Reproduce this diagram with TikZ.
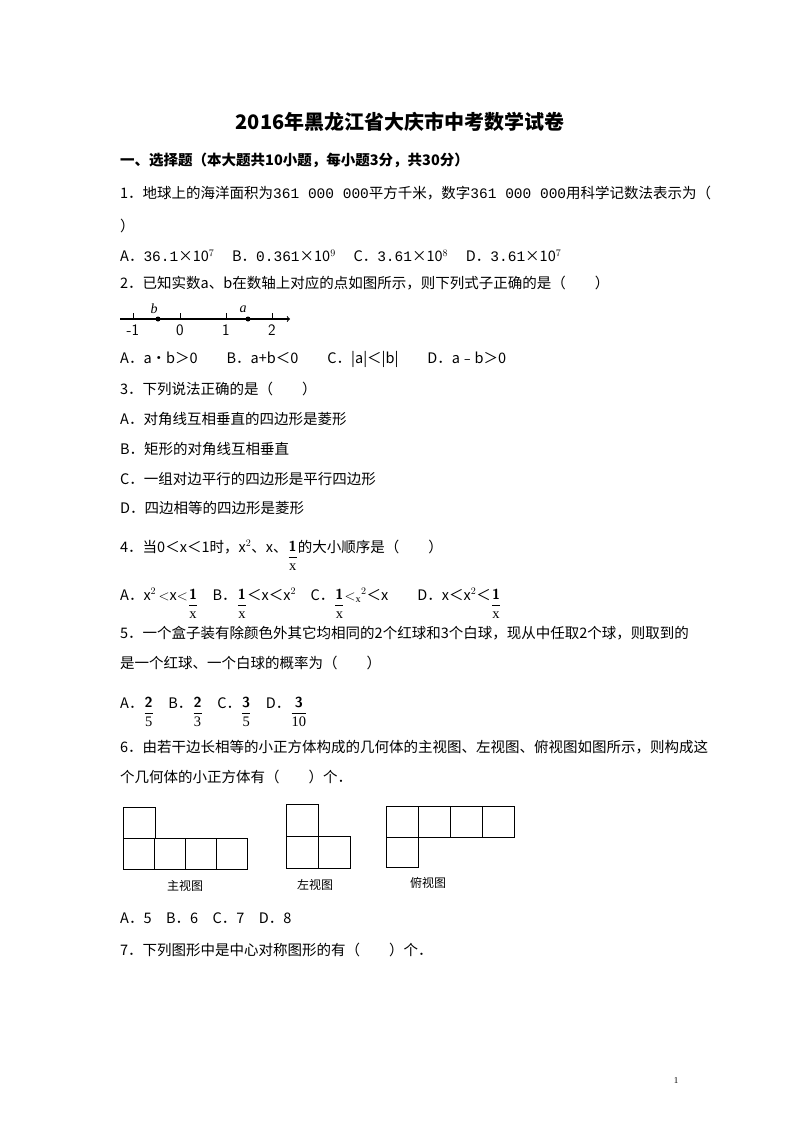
\documentclass[tikz,border=0pt]{standalone}
\usepackage{fontspec}
\newfontfamily\cjk{Noto Sans CJK SC}
\newfontfamily\mn{Liberation Mono}
\setmainfont{Liberation Serif}
\newcommand{\myfr}[2]{\raisebox{-0.62em}{$\displaystyle\frac{\textsf{\textbf{#1}}}{\mathrm{#2}}$}}
\begin{document}
\begin{tikzpicture}[x=1pt,y=-1pt,
  t/.style={anchor=west,inner sep=0pt,font=\cjk\fontsize{14.5}{16}\selectfont},
  sq/.style={draw,line width=0.9pt},
  fr/.style={inner sep=0pt,font=\fontsize{16}{17}\selectfont\sffamily}]
\useasboundingbox (0,0) rectangle (800,1132);
\node[inner sep=0pt,font=\cjk\bfseries\fontsize{20}{22}\selectfont] (title) at (400,122) {2016年黑龙江省大庆市中考数学试卷};
\node[t,font=\cjk\bfseries\fontsize{14.5}{16}\selectfont] (s1) at (120,160) {一、选择题（本大题共10小题，每小题3分，共30分）};
\node[t] (q1) at (120,193) {1．地球上的海洋面积为{\mn 361 000 000}平方千米，数字{\mn 361 000 000}用科学记数法表示为（};
\node[t] (q1b) at (120,226) {）};
\node[t] (q1o) at (120,256) {A．{\mn 36.1}×10$^7$\quad\ B．{\mn 0.361}×10$^9$\quad\ C．{\mn 3.61}×10$^8$\quad\ D．{\mn 3.61}×10$^7$};
\node[t] (q2) at (120,283) {2．已知实数a、b在数轴上对应的点如图所示，则下列式子正确的是（\qquad ）};
% number line
\draw[->,line width=1.1pt] (120,319) -- (290,319);
\foreach \x/\l in {133/-1,180/0,226/1,272/2}{\draw (\x,319) -- (\x,313); \node[fr] at (\x,330) {\l};}
\fill (158,319) circle (2.5); \node[fr,font=\itshape\fontsize{14}{15}\selectfont] at (154,309) {b};
\fill (248,319) circle (2.5); \node[fr,font=\itshape\fontsize{14}{15}\selectfont] at (243,309) {a};
\node[t] (q2o) at (120,359) {A．a•b＞0\qquad B．a+b＜0\qquad C．|a|＜|b|\qquad D．a﹣b＞0};
\node[t] (q3) at (120,389) {3．下列说法正确的是（\qquad ）};
\node[t] (q3a) at (120,419) {A．对角线互相垂直的四边形是菱形};
\node[t] (q3b) at (120,449) {B．矩形的对角线互相垂直};
\node[t] (q3c) at (120,479) {C．一组对边平行的四边形是平行四边形};
\node[t] (q3d) at (120,508) {D．四边相等的四边形是菱形};
\node[t,anchor=base west] (q4) at (120,552) {4．当0＜x＜1时，x$^2$、x、\myfr{1}{x}的大小顺序是（\qquad ）};
\node[t,anchor=base west] (q4o) at (120,600) {A．x$^2$\,$<$x$<$\myfr{1}{x}\quad B．\myfr{1}{x}＜x＜x$^2$\quad C．\myfr{1}{x}$<_{\mathrm x}$$^2$＜x\qquad D．x＜x$^2$＜\myfr{1}{x}};
\node[t] (q5) at (120,633) {5．一个盒子装有除颜色外其它均相同的2个红球和3个白球，现从中任取2个球，则取到的};
\node[t] (q5b) at (120,663) {是一个红球、一个白球的概率为（\qquad ）};
\node[t,anchor=base west] (q5o) at (120,708) {A．\myfr{2}{5}\quad B．\myfr{2}{3}\quad C．\myfr{3}{5}\quad D．\myfr{3}{10}};
\node[t] (q6) at (120,747) {6．由若干边长相等的小正方体构成的几何体的主视图、左视图、俯视图如图所示，则构成这};
\node[t] (q6b) at (120,777) {个几何体的小正方体有（\qquad ）个．};
% views
\draw[sq] (123,807) rectangle (155,838);
\foreach \i in {0,1,2,3}{\draw[sq] (123+31*\i,838) rectangle (154+31*\i,869);}
\node[inner sep=0pt,font=\cjk\fontsize{12}{14}\selectfont] at (185,886) {主视图};
\draw[sq] (286,804) rectangle (318,836);
\draw[sq] (286,836) rectangle (318,868);
\draw[sq] (318,836) rectangle (350,868);
\node[inner sep=0pt,font=\cjk\fontsize{12}{14}\selectfont] at (315,885) {左视图};
\foreach \i in {0,1,2,3}{\draw[sq] (386+32*\i,806) rectangle (418+32*\i,837);}
\draw[sq] (386,837) rectangle (418,867);
\node[inner sep=0pt,font=\cjk\fontsize{12}{14}\selectfont] at (428,883) {俯视图};
\node[t] (q6o) at (120,918) {A．5\quad B．6\quad C．7\quad D．8};
\node[t] (q7) at (120,950) {7．下列图形中是中心对称图形的有（\qquad ）个．};
\node[inner sep=0pt,font=\fontsize{9}{10}\selectfont] (pg) at (676,1081) {1};
\end{tikzpicture}
\end{document}
